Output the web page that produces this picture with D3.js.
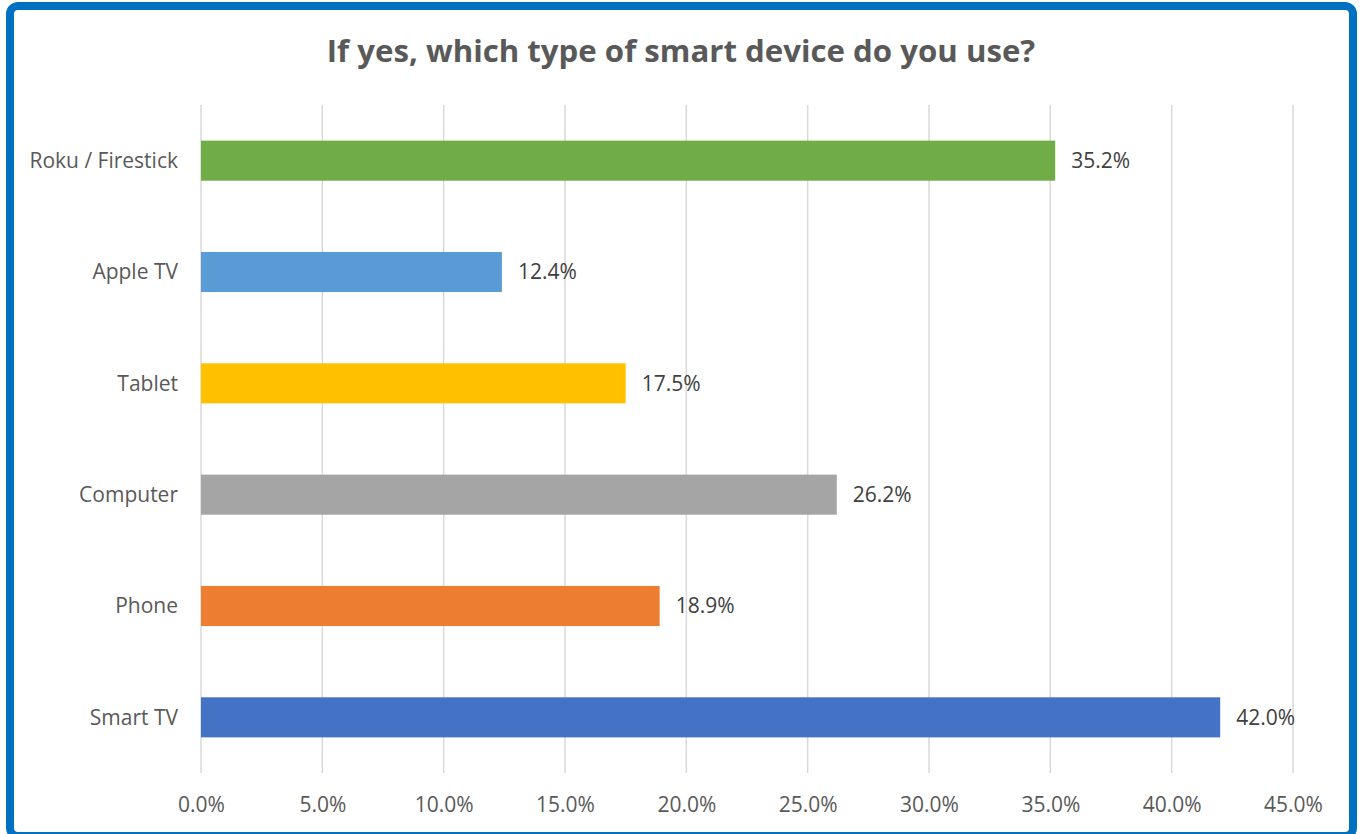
<!DOCTYPE html>
<html><head><meta charset="utf-8">
<script src="https://cdn.jsdelivr.net/npm/d3@7"></script>
<style>html,body{margin:0;padding:0;background:#fff;}svg{display:block;}</style>
</head><body>
<script>
const categories = ["Roku / Firestick","Apple TV","Tablet","Computer","Phone","Smart TV"];
const values = [35.2, 12.4, 17.5, 26.2, 18.9, 42.0];
const colors = ["#70AD47","#5B9BD5","#FFC000","#A5A5A5","#ED7D31","#4472C4"];
const ticks = [0,5,10,15,20,25,30,35,40,45];
const title = "If yes, which type of smart device do you use?";

const W = 1362, H = 834;
const svg = d3.select("body").append("svg").attr("width", W).attr("height", H);
const font = "'Open Sans', Calibri, sans-serif";

svg.append("rect").attr("x",10).attr("y",6).attr("width",1343).attr("height",830)
  .attr("rx",8).attr("fill","#fff").attr("stroke","#0070C0").attr("stroke-width",8);

svg.append("text").attr("x",681).attr("y",62).attr("text-anchor","middle")
  .attr("font-family",font).attr("font-weight","bold").attr("font-size",31.2)
  .attr("fill","#595959").text(title);

const x = d3.scaleLinear().domain([0,45]).range([201,1293]);
const y = d3.scaleBand().domain(categories).range([105,773]).paddingInner(0.64).paddingOuter(0.32);

const g = svg.append("g");
g.selectAll("line.grid").data(ticks).join("line").attr("class","grid")
  .attr("x1",d=>x(d)).attr("x2",d=>x(d)).attr("y1",105).attr("y2",773)
  .attr("stroke","#D9D9D9").attr("stroke-width",1.5);

g.selectAll("rect.bar").data(values).join("rect").attr("class","bar")
  .attr("x",x(0)).attr("y",(d,i)=>y(categories[i]))
  .attr("width",d=>x(d)-x(0)).attr("height",y.bandwidth())
  .attr("fill",(d,i)=>colors[i]);

g.selectAll("text.val").data(values).join("text").attr("class","val")
  .attr("x",d=>x(d)+16).attr("y",(d,i)=>y(categories[i])+y.bandwidth()/2)
  .attr("dy","0.35em").attr("font-family",font).attr("font-size",21)
  .attr("fill","#404040").text(d=>d.toFixed(1)+"%");

g.selectAll("text.cat").data(categories).join("text").attr("class","cat")
  .attr("x",178).attr("y",d=>y(d)+y.bandwidth()/2).attr("dy","0.35em")
  .attr("text-anchor","end").attr("font-family",font).attr("font-size",21)
  .attr("fill","#595959").text(d=>d);

const xAxis = d3.axisBottom(x).tickValues(ticks).tickSize(0).tickFormat(d=>d.toFixed(1)+"%");
const ax = svg.append("g").attr("transform","translate(0,794)").call(xAxis);
ax.select(".domain").remove();
ax.selectAll("text").attr("font-family",font).attr("font-size",21).attr("fill","#595959");
</script>
</body></html>
